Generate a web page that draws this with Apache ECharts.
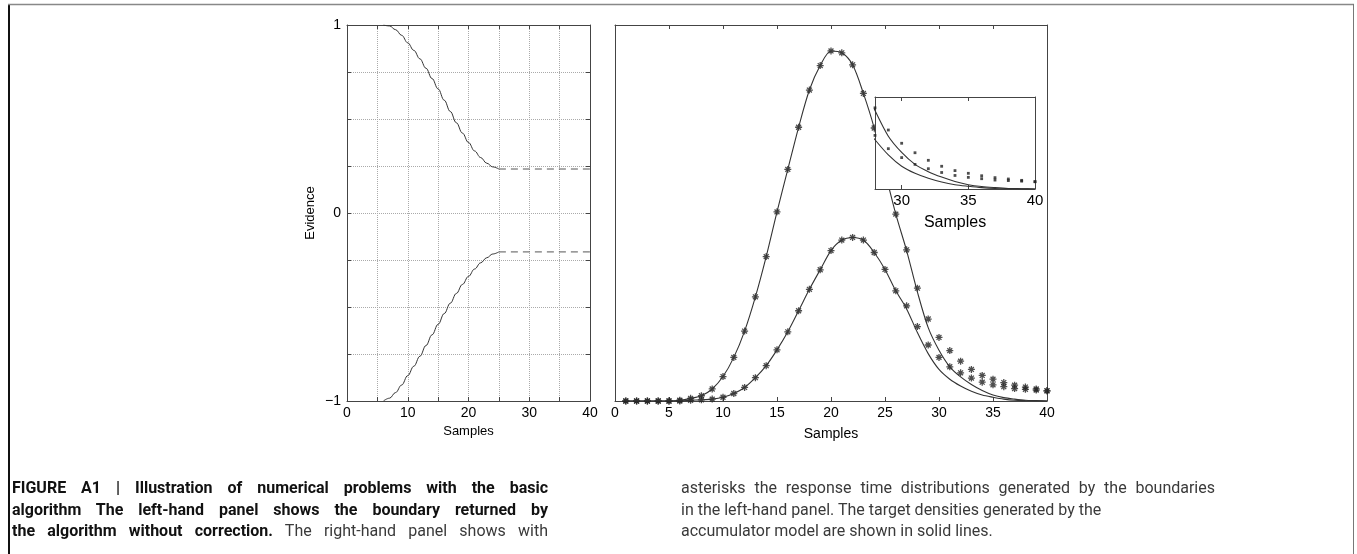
<!DOCTYPE html>
<html>
<head>
<meta charset="utf-8">
<script src="https://cdn.jsdelivr.net/npm/echarts@6/dist/echarts.min.js"></script>
<style>
html, body { margin: 0; padding: 0; background: #fff; }
#chart { position: absolute; left: 0; top: 0; width: 1357px; height: 554px; }
.cap { position: absolute; font-family: Roboto, "Liberation Sans", sans-serif; font-size: 16px; line-height: 21.5px; color: #3a3a3a; }
.cap b { color: #111; font-weight: bold; }
.just { text-align: justify; text-align-last: justify; }
</style>
</head>
<body>
<div id="chart"></div>
<div class="cap" style="left:12px; top:477px; width:536px;">
  <div class="just"><b>FIGURE A1 | Illustration of numerical problems with the basic</b></div>
  <div class="just"><b>algorithm The left-hand panel shows the boundary returned by</b></div>
  <div class="just"><b>the algorithm without correction.</b> The right-hand panel shows with</div>
</div>
<div class="cap" style="left:681px; top:477px; width:534px;">
  <div class="just">asterisks the response time distributions generated by the boundaries</div>
  <div>in the left-hand panel. The target densities generated by the</div>
  <div>accumulator model are shown in solid lines.</div>
</div>
<script>
var chartDom = document.getElementById('chart');
var myChart = echarts.init(chartDom);
var option;

// left panel: boundary returned by the algorithm
var boundaryX = [6, 7, 8, 9, 10, 11, 12, 13, 14, 15, 16, 17, 18, 19, 20, 21, 22, 23, 24, 25];
var upperBoundary = [1.0, 0.995, 0.975, 0.945, 0.905, 0.865, 0.82, 0.77, 0.715, 0.66, 0.60, 0.54, 0.48, 0.425, 0.375, 0.33, 0.295, 0.265, 0.245, 0.234];
var lowerBoundary = [-1.0, -0.985, -0.955, -0.915, -0.865, -0.815, -0.762, -0.705, -0.648, -0.592, -0.535, -0.48, -0.428, -0.38, -0.337, -0.298, -0.265, -0.238, -0.218, -0.207];
var plateauX = [25, 40];
var upperPlateau = [0.234, 0.234];
var lowerPlateau = [-0.207, -0.207];

// right panel: response time distributions
var samples = [1, 2, 3, 4, 5, 6, 7, 8, 9, 10, 11, 12, 13, 14, 15, 16, 17, 18, 19, 20,
  21, 22, 23, 24, 25, 26, 27, 28, 29, 30, 31, 32, 33, 34, 35, 36, 37, 38, 39, 40];
var simFast = [0, 0, 0, 0, 0, 0.0002, 0.0007, 0.0014, 0.0032, 0.0065, 0.0116, 0.0186, 0.0277, 0.0384, 0.0503, 0.0616, 0.0728, 0.0827, 0.0892, 0.0931,
  0.0926, 0.0894, 0.0818, 0.0726, 0.0610, 0.0497, 0.0402, 0.0300, 0.0218, 0.0169, 0.0134, 0.0106, 0.0084, 0.0068, 0.0058, 0.0049, 0.0042, 0.0037, 0.0032, 0.0027];
var simSlow = [0, 0, 0, 0, 0, 0, 0.0002, 0.0003, 0.0005, 0.0010, 0.0020, 0.0036, 0.0062, 0.0094, 0.0136, 0.0184, 0.0240, 0.0297, 0.0349, 0.0400,
  0.0428, 0.0435, 0.0428, 0.0395, 0.0350, 0.0293, 0.0253, 0.0198, 0.0149, 0.0116, 0.0091, 0.0075, 0.0061, 0.0050, 0.0043, 0.0038, 0.0033, 0.0031, 0.0029, 0.0027];
var targetFast = [0, 0, 0, 0, 0, 0.0002, 0.0007, 0.0014, 0.0032, 0.0065, 0.0116, 0.0186, 0.0277, 0.0384, 0.0503, 0.0616, 0.0728, 0.0827, 0.0892, 0.0931,
  0.0926, 0.0894, 0.0818, 0.0726, 0.0610, 0.0497, 0.0400, 0.0290, 0.0195, 0.0135, 0.0091, 0.0064, 0.0044, 0.0028, 0.0016, 0.0009, 0.0005, 0.0002, 0.0001, 0];
var targetSlow = [0, 0, 0, 0, 0, 0, 0.0002, 0.0003, 0.0005, 0.0010, 0.0020, 0.0036, 0.0062, 0.0094, 0.0136, 0.0184, 0.0240, 0.0297, 0.0349, 0.0400,
  0.0428, 0.0435, 0.0428, 0.0395, 0.0350, 0.0293, 0.0245, 0.0182, 0.0126, 0.0084, 0.0058, 0.0040, 0.0026, 0.0016, 0.0010, 0.0005, 0.0002, 0.0001, 0.00005, 0];

// tick labels
var evidenceLabels = [-1, 0, 1];
var leftSampleLabels = [0, 10, 20, 30, 40];
var insetLabels = [30, 35, 40];
var insetTicks = [30, 35];

var axisColor = '#444';
var curveColor = '#333';
var labelFont = { color: '#000', fontSize: 14, fontFamily: 'Liberation Sans, Arial, sans-serif' };
var asterisk = 'path://M0,-5L0,5M-5,0L5,0M-3.5,-3.5L3.5,3.5M-3.5,3.5L3.5,-3.5';

function pairs(xs, ys) {
  return xs.map(function (x, i) { return [x, ys[i]]; });
}

function boxAxis(gridIndex, pos, min, max, interval, extra) {
  var a = {
    gridIndex: gridIndex, type: 'value', position: pos, min: min, max: max, interval: interval,
    axisLine: { show: true, onZero: false, lineStyle: { color: axisColor, width: 1 } },
    axisTick: { show: true, inside: true, length: 4, lineStyle: { color: axisColor } },
    axisLabel: { show: false },
    splitLine: { show: false }
  };
  return Object.assign(a, extra || {});
}

option = {
  animation: false,
  backgroundColor: '#fff',
  grid: [
    { left: 347, top: 25, width: 243, height: 376 },
    { left: 615, top: 25, width: 432, height: 376 },
    { left: 875, top: 97, width: 160, height: 92, show: true, backgroundColor: '#fff', borderWidth: 0, z: 20 }
  ],
  xAxis: [
    boxAxis(0, 'bottom', 0, 40, 5, {
      name: 'Samples', nameLocation: 'middle', nameGap: 20,
      nameTextStyle: { color: '#000', fontSize: 13, fontFamily: 'Liberation Sans, Arial, sans-serif' },
      axisLabel: Object.assign({ show: true, margin: 5, formatter: function (v) { return leftSampleLabels.indexOf(v) >= 0 ? String(v) : ''; } }, labelFont),
      splitLine: { show: true, lineStyle: { type: 'dotted', color: '#aaa', width: 1 } }
    }),
    boxAxis(0, 'top', 0, 40, 5),
    boxAxis(1, 'bottom', 0, 40, 5, {
      name: 'Samples', nameLocation: 'middle', nameGap: 26,
      nameTextStyle: { color: '#000', fontSize: 14, fontFamily: 'Liberation Sans, Arial, sans-serif' },
      axisLabel: Object.assign({ show: true, margin: 5 }, labelFont)
    }),
    boxAxis(1, 'top', 0, 40, 5),
    boxAxis(2, 'bottom', 28, 40, null, {
      z: 21,
      name: 'Samples', nameLocation: 'middle', nameGap: 26,
      nameTextStyle: { color: '#000', fontSize: 16, fontFamily: 'Liberation Sans, Arial, sans-serif' },
      axisTick: { show: true, inside: true, length: 4, customValues: insetTicks, lineStyle: { color: axisColor } },
      axisLabel: Object.assign({ show: true, margin: 4, customValues: insetLabels }, labelFont, { fontSize: 15 })
    }),
    boxAxis(2, 'top', 28, 40, null, {
      z: 21,
      axisTick: { show: true, inside: true, length: 4, customValues: insetTicks, lineStyle: { color: axisColor } }
    })
  ],
  yAxis: [
    boxAxis(0, 'left', -1, 1, 0.25, {
      name: 'Evidence', nameLocation: 'middle', nameGap: 30,
      nameTextStyle: { color: '#000', fontSize: 13, fontFamily: 'Liberation Sans, Arial, sans-serif' },
      axisLabel: Object.assign({ show: true, margin: 6, formatter: function (v) {
        if (evidenceLabels.indexOf(v) < 0) return '';
        return v < 0 ? '\u2212' + Math.abs(v) : String(v);
      } }, labelFont),
      splitLine: { show: true, lineStyle: { type: 'dotted', color: '#aaa', width: 1 } }
    }),
    boxAxis(0, 'right', -1, 1, 0.25),
    boxAxis(1, 'left', 0, 0.1, 0.01, { axisTick: { show: false } }),
    boxAxis(1, 'right', 0, 0.1, 0.01, { axisTick: { show: false } }),
    boxAxis(2, 'left', 0, 0.034, null, { z: 21, axisTick: { show: false } }),
    boxAxis(2, 'right', 0, 0.034, null, { z: 21, axisTick: { show: false } })
  ],
  series: [
    // left panel
    { type: 'line', xAxisIndex: 0, yAxisIndex: 0, data: pairs(boundaryX, upperBoundary), smooth: 0.4, smoothMonotone: 'x', showSymbol: false, lineStyle: { color: curveColor, width: 1 } },
    { type: 'line', xAxisIndex: 0, yAxisIndex: 0, data: pairs(boundaryX, lowerBoundary), smooth: 0.4, smoothMonotone: 'x', showSymbol: false, lineStyle: { color: curveColor, width: 1 } },
    { type: 'line', xAxisIndex: 0, yAxisIndex: 0, data: pairs(plateauX, upperPlateau), showSymbol: false, lineStyle: { color: '#555', width: 1, type: [7, 5] } },
    { type: 'line', xAxisIndex: 0, yAxisIndex: 0, data: pairs(plateauX, lowerPlateau), showSymbol: false, lineStyle: { color: '#555', width: 1, type: [7, 5] } },
    // right panel
    { type: 'line', xAxisIndex: 2, yAxisIndex: 2, data: pairs(samples, targetFast), smooth: 0.3, showSymbol: false, lineStyle: { color: curveColor, width: 1.1 } },
    { type: 'line', xAxisIndex: 2, yAxisIndex: 2, data: pairs(samples, targetSlow), smooth: 0.3, showSymbol: false, lineStyle: { color: curveColor, width: 1.1 } },
    { type: 'scatter', xAxisIndex: 2, yAxisIndex: 2, data: pairs(samples, simFast), symbol: asterisk, symbolSize: 7, itemStyle: { color: 'transparent', borderColor: '#222', borderWidth: 1.3 } },
    { type: 'scatter', xAxisIndex: 2, yAxisIndex: 2, data: pairs(samples, simSlow), symbol: asterisk, symbolSize: 7, itemStyle: { color: 'transparent', borderColor: '#222', borderWidth: 1.3 } },
    // inset
    { type: 'line', xAxisIndex: 4, yAxisIndex: 4, z: 22, data: pairs(samples, targetFast), smooth: 0.3, showSymbol: false, clip: true, lineStyle: { color: curveColor, width: 1.1 } },
    { type: 'line', xAxisIndex: 4, yAxisIndex: 4, z: 22, data: pairs(samples, targetSlow), smooth: 0.3, showSymbol: false, clip: true, lineStyle: { color: curveColor, width: 1.1 } },
    { type: 'scatter', xAxisIndex: 4, yAxisIndex: 4, z: 22, data: pairs(samples, simFast), clip: true, symbol: 'rect', symbolSize: 2.8, itemStyle: { color: '#222' } },
    { type: 'scatter', xAxisIndex: 4, yAxisIndex: 4, z: 22, data: pairs(samples, simSlow), clip: true, symbol: 'rect', symbolSize: 2.8, itemStyle: { color: '#222' } }
  ],
  graphic: [
    { type: 'line', shape: { x1: 9, y1: 4, x2: 9, y2: 554 }, style: { stroke: '#111', lineWidth: 2 } },
    { type: 'line', shape: { x1: 8, y1: 4.5, x2: 1354, y2: 4.5 }, style: { stroke: '#888', lineWidth: 1.5 } },
    { type: 'line', shape: { x1: 1353.5, y1: 4, x2: 1353.5, y2: 554 }, style: { stroke: '#777', lineWidth: 1 } }
  ]
};

option && myChart.setOption(option);
</script>
</body>
</html>
